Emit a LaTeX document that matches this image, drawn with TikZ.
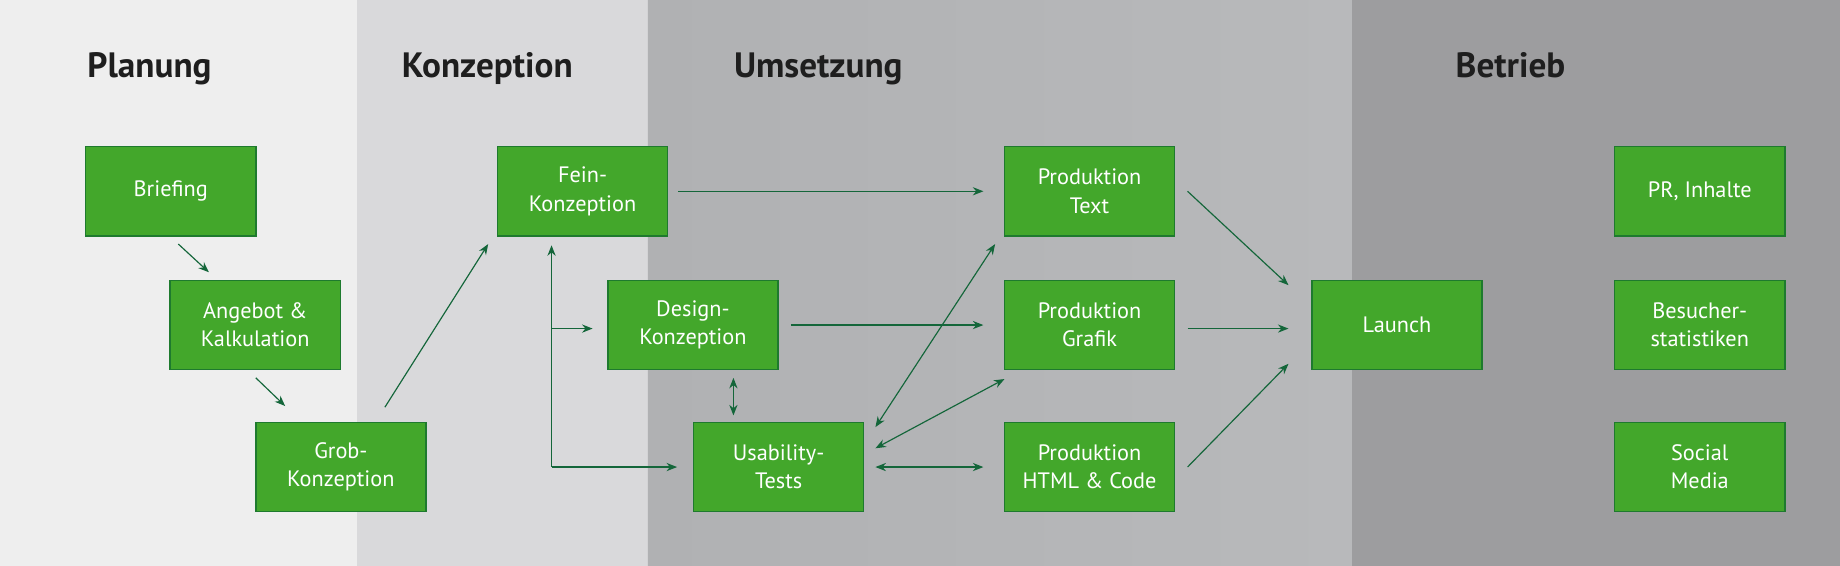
\documentclass[tikz,border=0pt]{standalone}
\usepackage{fontspec}
\setmainfont{PT Sans}
\usetikzlibrary{arrows.meta}
\definecolor{bandA}{HTML}{EEEEEE}
\definecolor{bandB}{HTML}{D9D9DB}
\definecolor{bandC}{HTML}{B0B1B3}
\definecolor{bandCl}{HTML}{B8B9BB}
\definecolor{bandD}{HTML}{9D9D9F}
\definecolor{boxg}{HTML}{43A72B}
\definecolor{boxb}{HTML}{1E7A2E}
\definecolor{arr}{HTML}{14663A}
\definecolor{ttl}{HTML}{1E1E1E}
\begin{document}
\begin{tikzpicture}[x=1pt,y=-1pt,
  box/.style={draw=boxb,line width=1.2pt,fill=boxg,minimum width=145pt,minimum height=76pt,text=white,font=\fontsize{19}{24}\selectfont,align=center,inner sep=0pt},
  ttl/.style={text=ttl,font=\fontsize{30}{34}\selectfont\bfseries,anchor=base west},
  ar/.style={draw=arr,line width=1pt,-{Stealth[length=9pt,width=7pt]}},
  dar/.style={draw=arr,line width=1pt,{Stealth[length=9pt,width=7pt]}-{Stealth[length=9pt,width=7pt]}}]
\useasboundingbox (0,0) rectangle (1568,482);
\fill[bandA] (0,0) rectangle (304,482);
\fill[bandB] (304,0) rectangle (552,482);
\shade[left color=bandC,right color=bandCl] (552,0) rectangle (1152,482);
\fill[bandD] (1152,0) rectangle (1568,482);
\node[ttl] (t1) at (71,66) {Planung};
\node[ttl] (t2) at (339,66) {Konzeption};
\node[ttl] (t3) at (622,66) {Umsetzung};
\node[ttl] (t4) at (1237,66) {Betrieb};
\node[box] (brief) at (145.5,163) {Briefing};
\node[box] (ang) at (217.5,277) {Angebot \&\\Kalkulation};
\node[box] (grob) at (290.5,398) {Grob-\\Konzeption};
\node[box] (fein) at (496.5,163) {Fein-\\Konzeption};
\node[box] (des) at (590.5,277) {Design-\\Konzeption};
\node[box] (usa) at (663.5,398) {Usability-\\Tests};
\node[box] (ptext) at (928.5,163) {Produktion\\Text};
\node[box] (pgraf) at (928.5,277) {Produktion\\Grafik};
\node[box] (phtml) at (928.5,398) {Produktion\\HTML \& Code};
\node[box] (launch) at (1190.5,277) {Launch};
\node[box] (pr) at (1448.5,163) {PR, Inhalte};
\node[box] (bes) at (1448.5,277) {Besucher-\\statistiken};
\node[box] (soc) at (1448.5,398) {Social\\Media};
% connector endpoints
\coordinate (a1) at (152,208); \coordinate (a2) at (178,232);
\coordinate (b1) at (218,322); \coordinate (b2) at (243,346);
\coordinate (c1) at (328,347); \coordinate (c2) at (416,208);
\coordinate (d1) at (578,163); \coordinate (d2) at (838,163);
\coordinate (e0) at (470,398); \coordinate (e1) at (470,209);
\coordinate (e2) at (470,280); \coordinate (e3) at (505,280); \coordinate (e4) at (577,398);
\coordinate (f1) at (625,322); \coordinate (f2) at (625,354);
\coordinate (g1) at (674,277); \coordinate (g2) at (838,277);
\coordinate (h1) at (746,364); \coordinate (h2) at (848,208);
\coordinate (i1) at (746,382); \coordinate (i2) at (856,323);
\coordinate (j1) at (746,398); \coordinate (j2) at (838,398);
\coordinate (k1) at (1012,163); \coordinate (k2) at (1098,243);
\coordinate (l1) at (1012,280); \coordinate (l2) at (1098,280);
\coordinate (m1) at (1012,398); \coordinate (m2) at (1098,310);
\draw[ar] (a1) -- (a2);
\draw[ar] (b1) -- (b2);
\draw[ar] (c1) -- (c2);
\draw[ar] (d1) -- (d2);
\draw[ar] (e0) -- (e1);
\draw[ar] (e2) -- (e3);
\draw[ar] (e0) -- (e4);
\draw[dar] (f1) -- (f2);
\draw[ar] (g1) -- (g2);
\draw[dar] (h1) -- (h2);
\draw[dar] (i1) -- (i2);
\draw[dar] (j1) -- (j2);
\draw[ar] (k1) -- (k2);
\draw[ar] (l1) -- (l2);
\draw[ar] (m1) -- (m2);
\end{tikzpicture}
\end{document}
